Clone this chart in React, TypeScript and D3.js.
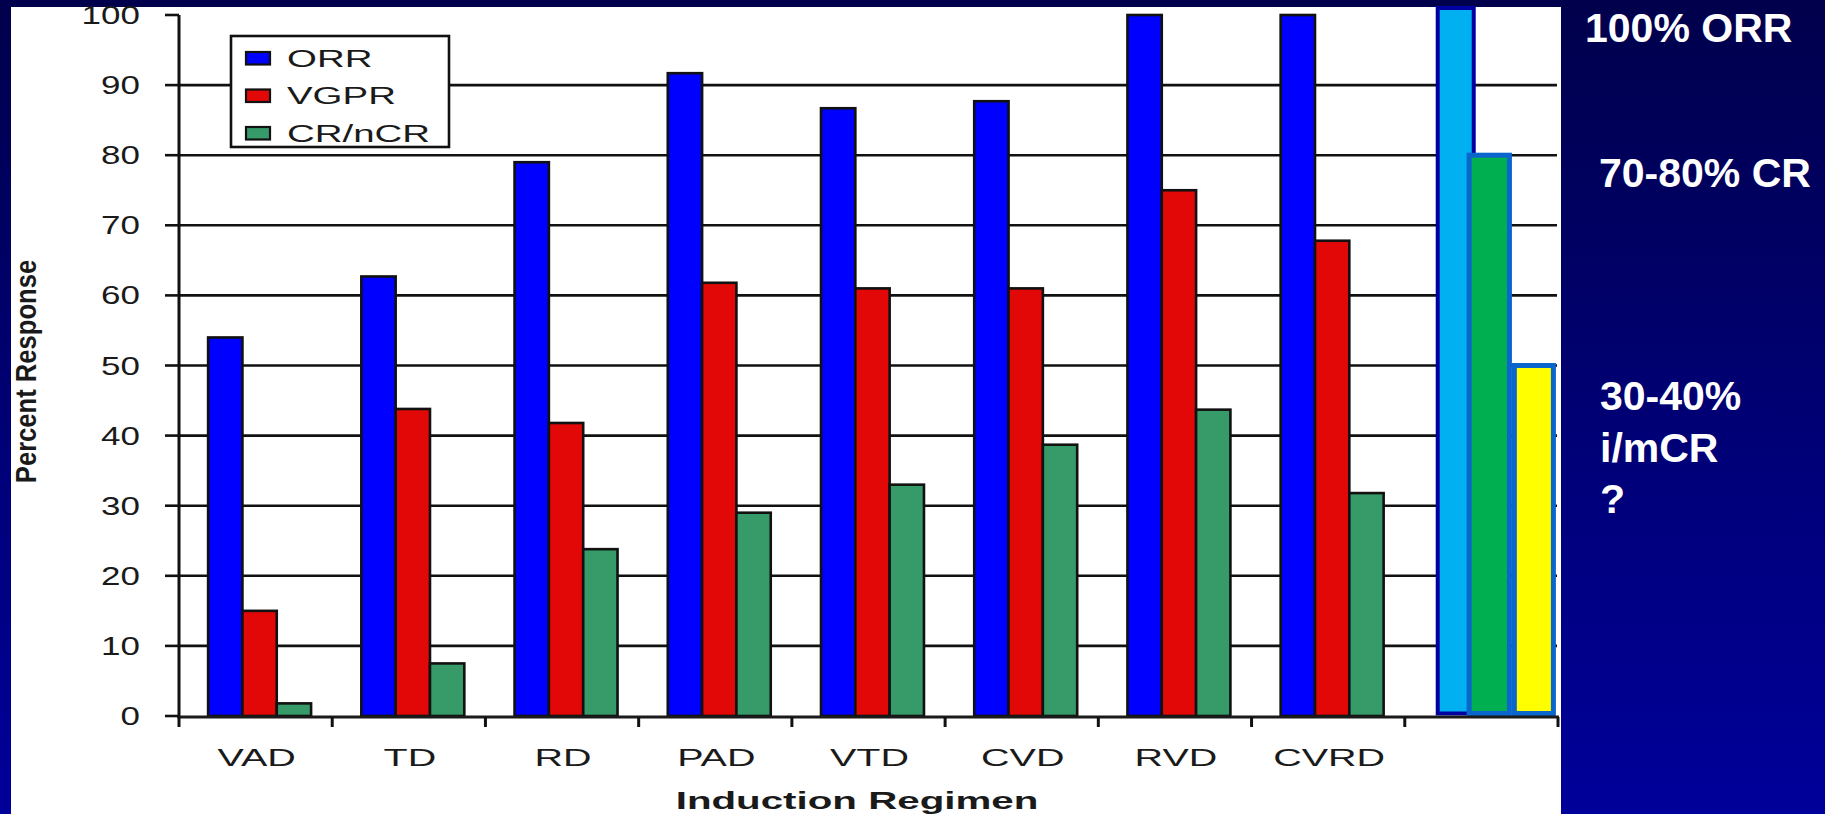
import React from "react";
import * as d3 from "d3";

const categories = ["VAD", "TD", "RD", "PAD", "VTD", "CVD", "RVD", "CVRD"];
const seriesNames = ["ORR", "VGPR", "CR/nCR"];
const orrValues = [54, 62.7, 79, 91.7, 86.7, 87.7, 100, 100];
const vgprValues = [15, 43.8, 41.8, 61.8, 61, 61, 75, 67.8];
const crValues = [1.8, 7.5, 23.8, 29, 33, 38.7, 43.7, 31.8];
const yTicks = [0, 10, 20, 30, 40, 50, 60, 70, 80, 90, 100];
const projectedValues = [101, 80, 50]; // ORR, CR, i/mCR (future regimen)
const seriesColors = ["#0000ff", "#e20808", "#369b69"];

const W = 1825;
const H = 814;
const FONT = "'Liberation Sans', Arial, Helvetica, sans-serif";

export default function App() {
  const y = d3.scaleLinear().domain([0, 100]).range([716, 15]);
  const x0 = d3
    .scaleBand<string>()
    .domain([...categories, "proj"])
    .range([179, 1558])
    .padding(0);
  const bw = x0.bandwidth();
  const x1 = d3
    .scaleBand<string>()
    .domain(seriesNames)
    .range([bw * 0.19, bw * 0.862])
    .padding(0);
  const seriesValues = [orrValues, vgprValues, crValues];
  const projX = x0("proj") as number;
  const ticksX = [...categories, "proj"].map((c) => x0(c) as number).concat([1558]);

  // projected bars geometry fractions within last band
  const proj = [
    { v: projectedValues[0], a: 0.215, b: 0.45, fill: "#00b0f0", stroke: "#0000a0", sw: 4 },
    { v: projectedValues[1], a: 0.42, b: 0.683, fill: "#00b050", stroke: "#0a66cc", sw: 5 },
    { v: projectedValues[2], a: 0.715, b: 0.97, fill: "#ffff00", stroke: "#0a66cc", sw: 5 },
  ];

  return (
    <svg
      width={W}
      height={H}
      style={{ position: "absolute", left: 0, top: 0, display: "block" }}
    >
      <defs>
        <linearGradient id="bg" x1="0" y1="0" x2="0" y2="1">
          <stop offset="0" stopColor="#00004c" />
          <stop offset="1" stopColor="#00009a" />
        </linearGradient>
      </defs>
      <rect x={0} y={0} width={W} height={H} fill="url(#bg)" />
      <rect x={11} y={7} width={1550} height={H - 7} fill="#ffffff" />

      {/* gridlines */}
      {yTicks
        .filter((t) => t > 0 && t < 100)
        .map((t) => (
          <line
            key={"g" + t}
            x1={179}
            x2={1557}
            y1={y(t)}
            y2={y(t)}
            stroke="#111"
            strokeWidth={2.6}
          />
        ))}

      {/* legend */}
      <g>
        <rect x={231} y={36} width={218} height={111} fill="#fff" stroke="#111" strokeWidth={2.6} />
        {seriesNames.map((s, i) => (
          <g key={s}>
            <rect
              x={246}
              y={52 + i * 37.5}
              width={24}
              height={12.5}
              fill={seriesColors[i]}
              stroke="#111"
              strokeWidth={2.2}
            />
            <text
              transform={`translate(287,${66.5 + i * 37.5}) scale(1.65,1)`}
              fontFamily={FONT}
              fontSize={23.3}
              fill="#1a1a1a"
            >
              {s}
            </text>
          </g>
        ))}
      </g>

      {/* bars */}
      {categories.map((c, ci) => (
        <g key={c} transform={`translate(${x0(c)},0)`}>
          {seriesNames.map((s, si) => {
            const v = seriesValues[si][ci];
            return (
              <rect
                key={s}
                x={x1(s) as number}
                y={y(v)}
                width={x1.bandwidth()}
                height={y(0) - y(v)}
                fill={seriesColors[si]}
                stroke="#111"
                strokeWidth={2.6}
              />
            );
          })}
        </g>
      ))}

      {/* projected bars */}
      {proj.map((p, i) => (
        <rect
          key={"p" + i}
          x={projX + p.a * bw}
          y={y(p.v)}
          width={(p.b - p.a) * bw}
          height={y(0) - 2.5 - y(p.v)}
          fill={p.fill}
          stroke={p.stroke}
          strokeWidth={p.sw}
        />
      ))}

      {/* axes */}
      <line x1={179} x2={179} y1={15} y2={718} stroke="#111" strokeWidth={3} />
      <line x1={177.5} x2={1559} y1={717} y2={717} stroke="#1a1a1a" strokeWidth={3} />
      {yTicks.map((t) => (
        <line key={"yt" + t} x1={165} x2={179} y1={y(t)} y2={y(t)} stroke="#111" strokeWidth={2.6} />
      ))}
      {ticksX.map((tx, i) => (
        <line key={"xt" + i} x1={tx} x2={tx} y1={717} y2={727} stroke="#111" strokeWidth={3} />
      ))}

      {/* y tick labels */}
      {yTicks.map((t) => (
        <text
          key={"yl" + t}
          transform={`translate(140,${y(t) + 9}) scale(1.4,1)`}
          textAnchor="end"
          fontFamily={FONT}
          fontSize={25}
          fill="#1a1a1a"
        >
          {t}
        </text>
      ))}

      {/* x tick labels */}
      {categories.map((c) => (
        <text
          key={"xl" + c}
          transform={`translate(${(x0(c) as number) + bw / 2 + 1},766) scale(1.6,1)`}
          textAnchor="middle"
          fontFamily={FONT}
          fontSize={24.7}
          fill="#1a1a1a"
        >
          {c}
        </text>
      ))}

      {/* axis titles */}
      <text
        transform="translate(857,809) scale(1.68,1)"
        textAnchor="middle"
        fontFamily={FONT}
        fontSize={24}
        fontWeight="bold"
        fill="#1a1a1a"
      >
        Induction Regimen
      </text>
      <text
        transform="translate(36,371.5) scale(1.18,1) rotate(-90)"
        textAnchor="middle"
        fontFamily={FONT}
        fontSize={25.6}
        fontWeight="bold"
        fill="#1a1a1a"
      >
        Percent Response
      </text>

      {/* right annotations */}
      <g fontFamily={FONT} fontWeight="bold" fontSize={41} fill="#ffffff">
        <text x={1585} y={42}>100% ORR</text>
        <text x={1599} y={187}>70-80% CR</text>
        <text x={1600} y={410}>30-40%</text>
        <text x={1600} y={462}>i/mCR</text>
        <text x={1600} y={513}>?</text>
      </g>
    </svg>
  );
}
